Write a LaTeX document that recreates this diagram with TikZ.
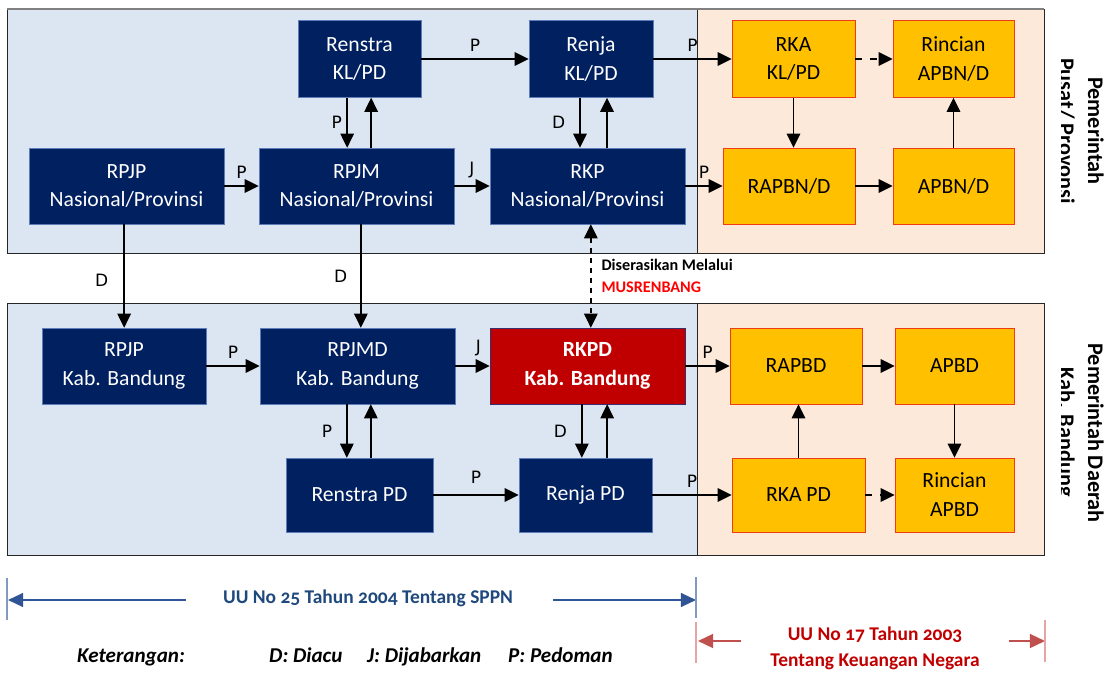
\documentclass[tikz,border=0pt]{standalone}
\usepackage{fontspec}
\setmainfont{Carlito}
\newfontfamily\lblfont{DejaVu Sans}
\newfontfamily\oldfig[Numbers=OldStyle]{Carlito}
\usetikzlibrary{arrows.meta}
\definecolor{plannavy}{HTML}{002060}
\definecolor{planedge}{HTML}{5E7DB8}
\definecolor{rkpdred}{HTML}{C00000}
\definecolor{rkpdedge}{HTML}{3A2E6E}
\definecolor{budgetyellow}{HTML}{FFC000}
\definecolor{budgetedge}{HTML}{F03C14}
\definecolor{zoneblue}{HTML}{DCE6F2}
\definecolor{zonepeach}{HTML}{FDE9D9}
\definecolor{sppnblue}{HTML}{1F497D}
\definecolor{sppnline}{HTML}{2F5597}
\definecolor{keuline}{HTML}{C0504D}
\definecolor{keutick}{HTML}{E6A5A5}
\definecolor{musred}{HTML}{FF0000}

\begin{document}
\begin{tikzpicture}[x=0.03cm, y=-0.03cm,
        box/.style={rectangle, draw=planedge, line width=0.4pt, fill=plannavy, text=white, align=center, inner sep=0pt, minimum height=2.28cm, font=\fontsize{18.5}{24.7}\selectfont},
        budget/.style={box, fill=budgetyellow, draw=budgetedge, text=black},
        arrow/.style={-{Triangle[length=12pt,width=11.5pt]}, line width=1.2pt},
        dasharrow/.style={arrow, dash pattern=on 0.21cm off 0.24cm},
        musarrow/.style={arrow, {Triangle[length=12pt,width=11.5pt]}-{Triangle[length=12pt,width=11.5pt]}, dash pattern=on 0.15cm off 0.15cm},
        lbl/.style={font=\lblfont\fontsize{14.5}{17}\selectfont, inner sep=0pt},
        mus/.style={align=left, inner sep=0pt, font=\bfseries\fontsize{13.8}{18.7}\selectfont},
        side/.style={font=\bfseries\fontsize{19}{23}\selectfont, rotate=-90, anchor=base, inner sep=0pt},
        sppn/.style={font=\oldfig\bfseries\fontsize{16.6}{20}\selectfont, text=sppnblue, inner sep=0pt},
        keu/.style={font=\oldfig\bfseries\fontsize{16.6}{22}\selectfont, text=rkpdred, align=center, inner sep=0pt},
        sppnarrow/.style={-{Triangle[length=13pt,width=12pt]}, line width=1.3pt, draw=sppnline},
        keuarrow/.style={-{Triangle[length=13pt,width=12pt]}, line width=1.6pt, draw=keuline},
        ket/.style={font=\bfseries\itshape\fontsize{18}{22}\selectfont, anchor=base west, inner sep=0pt}
    ]
        \useasboundingbox (0,0) rectangle (1111,677);

        % zones
        \fill[zoneblue] (7,9) rectangle (697,253);
        \fill[zonepeach] (697,9) rectangle (1044,253);
        \draw[black!85, line width=0.8pt] (7,9) rectangle (1044,253) (697,9) -- (697,253);
        \draw[gray, line width=1.2pt] (7,9) -- (1044,9);
        \fill[zoneblue] (7,303) rectangle (697,555);
        \fill[zonepeach] (697,303) rectangle (1044,555);
        \draw[black!85, line width=0.8pt] (7,303) rectangle (1044,555) (697,303) -- (697,555);

        % pusat / provinsi
        \node[box, minimum width=3.69cm, minimum height=2.31cm] (renstrakl) at (359.5,59) {Renstra\\KL/PD};
        \node[box, minimum width=3.72cm, minimum height=2.31cm] (renjakl) at (591,59) {Renja\\KL/PD};
        \node[budget, minimum width=3.69cm, minimum height=2.31cm] (rkakl) at (793.5,59) {RKA\\KL/PD};
        \node[budget, minimum width=3.63cm, minimum height=2.31cm] (rincianapbn) at (953.5,59) {Rincian\\APBN/D};
        \node[box, minimum width=5.85cm] (rpjpnas) at (126.5,186) {RPJP\\Nasional/Provinsi};
        \node[box, minimum width=5.85cm] (rpjmnas) at (356.5,186) {RPJM\\Nasional/Provinsi};
        \node[box, minimum width=5.85cm] (rkp) at (587.5,186) {RKP\\Nasional/Provinsi};
        \node[budget, minimum width=3.96cm] (rapbn) at (789,186) {RAPBN/D};
        \node[budget, minimum width=3.63cm] (apbn) at (953.5,186) {APBN/D};

        % kab. bandung
        \node[box, minimum width=4.92cm] (rpjpkab) at (124,366) {RPJP\\Kab. Bandung};
        \node[box, minimum width=5.85cm] (rpjmd) at (357.5,366) {RPJMD\\Kab. Bandung};
        \node[box, minimum width=5.85cm, fill=rkpdred, draw=rkpdedge, font=\bfseries\fontsize{18.5}{24.7}\selectfont] (rkpd) at (587.5,366) {RKPD\\Kab. Bandung};
        \node[budget, minimum width=3.96cm] (rapbd) at (796,366) {RAPBD};
        \node[budget, minimum width=3.57cm] (apbd) at (954.5,366) {APBD};
        \node[box, minimum width=4.41cm, minimum height=2.22cm] (renstrapd) at (359.5,495) {Renstra PD};
        \node[box, minimum width=3.99cm, minimum height=2.22cm] (renjapd) at (585.5,495) {Renja PD};
        \node[budget, minimum width=3.99cm, minimum height=2.22cm] (rkapd) at (798.5,495) {RKA PD};
        \node[budget, minimum width=3.57cm, minimum height=2.22cm] (rincianapbd) at (954.5,495) {Rincian\\APBD};

        % arrows, top
        \draw[arrow] (renstrakl) -- node[lbl, above=6pt] {P} (renjakl);
        \draw[arrow] (renjakl) -- node[lbl, above=6pt] {P} (rkakl);
        \draw[dasharrow] (rkakl) -- (rincianapbn);
        \draw[arrow] (rpjpnas) -- node[lbl, above=6pt] {P} (rpjmnas);
        \draw[arrow] (rpjmnas) -- node[lbl, above=6pt] {J} (rkp);
        \draw[arrow] (rkp) -- node[lbl, above=6pt] {P} (rapbn);
        \draw[arrow] (rapbn) -- (apbn);
        \draw[arrow] ([xshift=-0.37cm]renstrakl.south) -- node[lbl, left=4pt] {P} ([xshift=-0.37cm]renstrakl.south |- rpjmnas.north);
        \draw[arrow] ([xshift=0.35cm]renstrakl.south |- rpjmnas.north) -- ([xshift=0.35cm]renstrakl.south);
        \draw[arrow] ([xshift=-0.33cm]renjakl.south) -- node[lbl, left=12pt] {D} ([xshift=-0.33cm]renjakl.south |- rkp.north);
        \draw[arrow] ([xshift=0.48cm]renjakl.south |- rkp.north) -- ([xshift=0.48cm]renjakl.south);
        \draw[arrow] (rkakl) -- (rkakl |- rapbn.north);
        \draw[arrow] (apbn) -- (rincianapbn);

        % arrows, between
        \draw[arrow] ([xshift=-0.07cm]rpjpnas.south) -- node[lbl, left=13pt, yshift=-0.12cm] {D} ([xshift=-0.07cm]rpjpnas.south |- rpjpkab.north);
        \draw[arrow] ([xshift=0.13cm]rpjmnas.south) -- node[lbl, left=11pt] {D} ([xshift=0.13cm]rpjmnas.south |- rpjmd.north);
        \draw[musarrow] ([xshift=0.1cm]rkp.south) -- ([xshift=0.1cm]rkp.south |- rkpd.north) node[midway, right=0.3cm, mus] {Diserasikan Melalui\\\textcolor{musred}{MUSRENBANG}};

        % arrows, bottom
        \draw[arrow] (rpjpkab) -- node[lbl, above=6pt] {P} (rpjmd);
        \draw[arrow] (rpjmd) -- node[lbl, above=8pt, xshift=0.18cm] {J} (rkpd);
        \draw[arrow] (rkpd) -- node[lbl, above=6pt] {P} (rapbd);
        \draw[arrow] (rapbd) -- (apbd);
        \draw[arrow] (renstrapd) -- node[lbl, above=9pt] {P} (renjapd);
        \draw[arrow] (renjapd) -- node[lbl, above=6pt] {P} (rkapd);
        \draw[dasharrow] (rkapd) -- (rincianapbd);
        \draw[arrow] ([xshift=-0.32cm]rpjmd.south) -- node[lbl, left=12pt] {P} ([xshift=-0.32cm]rpjmd.south |- renstrapd.north);
        \draw[arrow] ([xshift=0.4cm]rpjmd.south |- renstrapd.north) -- ([xshift=0.4cm]rpjmd.south);
        \draw[arrow] ([xshift=-0.17cm]rkpd.south) -- node[lbl, left=12pt] {D} ([xshift=-0.17cm]rkpd.south |- renjapd.north);
        \draw[arrow] ([xshift=0.59cm]rkpd.south |- renjapd.north) -- ([xshift=0.59cm]rkpd.south);
        \draw[arrow] (rkapd) -- (rkapd |- rapbd.south);
        \draw[arrow] (apbd) -- (rincianapbd);

        % side titles
        \node[side] (pusat) at (1088,131) {Pemerintah};
        \node[side] (daerah) at (1088,433) {Pemerintah Daerah};
        \begin{scope}
            \clip (1061.5,0) rectangle (1111,677);
            \node[side] (pusatprov) at (1059,131) {Pusat/ Provonsi};
            \node[side] (daerahkab) at (1059,432) {Kab. Bandung};
        \end{scope}

        % undang-undang
        \node[sppn] (sppntext) at (368,598) {UU No 25 Tahun 2004 Tentang SPPN};
        \coordinate (sppnleft) at (8,600);
        \coordinate (sppnright) at (696,600);
        \draw[sppnarrow] ([xshift=-1.1cm]sppntext.west |- sppnleft) -- (sppnleft);
        \draw[sppnarrow] ([xshift=1.2cm]sppntext.east |- sppnright) -- (sppnright);
        \draw[sppnline!60, line width=0.9pt] (7,578) -- (7,620) (696,577) -- (696,618);

        \node[keu] (keutext) at (875,648) {UU No 17 Tahun 2003\\Tentang Keuangan Negara};
        \coordinate (keuleft) at (698,641);
        \coordinate (keuright) at (1045,641);
        \draw[keuarrow] ([xshift=-0.87cm]keutext.west |- keuleft) -- (keuleft);
        \draw[keuarrow] ([xshift=0.87cm]keutext.east |- keuright) -- (keuright);
        \draw[keutick, line width=1pt] (696,622) -- (696,663) (1045,620) -- (1045,662);

        % keterangan
        \node[ket] (ket) at (77,662) {Keterangan:};
        \node[ket] (ketd) at (269,662) {D: Diacu};
        \node[ket] (ketj) at (367,662) {J: Dijabarkan};
        \node[ket] (ketp) at (508,662) {P: Pedoman};
    \end{tikzpicture}
\end{document}
